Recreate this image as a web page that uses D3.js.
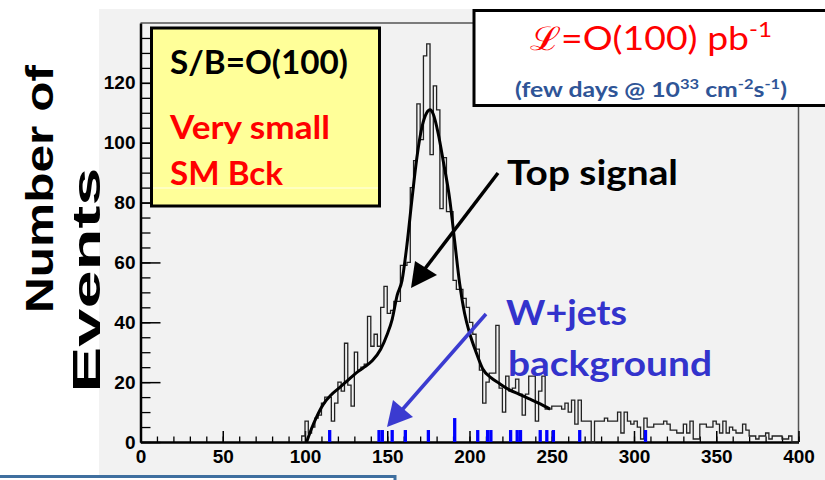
<!DOCTYPE html>
<html>
<head>
<meta charset="utf-8">
<script src="https://cdn.jsdelivr.net/npm/d3@7"></script>
<style>
  html, body { margin: 0; padding: 0; background: #fff; }
  svg { display: block; }
  .tick text { font-family: "Liberation Sans", Arial, sans-serif; font-weight: bold; font-size: 19px; fill: #000; }
</style>
</head>
<body>
<div id="chart"></div>
<script>
// top-mass histogram, 2 GeV bins starting at 98
const binLow = 98;
const binWidth = 2;
const topCounts = [
  2, 7, 3, 5, 8, 9, 13, 15, 15, 7,
  13, 20, 17, 33, 19, 12, 30, 24, 25, 26,
  42, 32, 36, 32, 45, 52, 43, 44, 47, 47,
  59, 59, 60, 85, 94, 113, 101, 129, 133, 96,
  119, 111, 78, 95, 77, 77, 54, 51, 51, 48,
  45, 40, 36, 31, 24, 13, 20, 23, 23, 39,
  18, 10, 22, 17, 18, 21, 16, 9, 16, 22,
  22, 7, 17, 22, 11, 11, 12, 12, 12, 11,
  13, 10, 14, 6, 14, 7, 7, 7, 0, 7,
  7, 7, 8, 7, 7, 7, 10, 3, 10, 7,
  6, 7, 5, 1, 8, 5, 5, 6, 6, 6,
  7, 6, 4, 4, 3, 3, 6, 3, 7, 1,
  1, 6, 6, 5, 5, 7, 6, 3, 7, 3,
  5, 4, 3, 3, 6, 4, 2, 2, 1, 2,
  2, 3, 1, 2, 2, 2, 1, 1, 2, 0,
  0
];

// W+jets background (blue filled bins)
const wjetsBins   = [114, 144, 146, 152, 160, 174, 190, 204, 210, 212, 224, 228, 230, 242, 246, 250, 266, 306];
const wjetsCounts = [4, 4, 4, 4, 4, 4, 8, 4, 4, 4, 4, 4, 4, 4, 4, 4, 4, 4];

// fitted signal curve
const fitMass   = [101, 104, 107, 111, 116, 121, 126, 131, 136, 141, 146, 150, 153, 156, 159, 162, 165, 168, 171, 174, 176, 178, 181, 184, 188, 191, 194, 197, 200, 204, 208, 213, 218, 224, 230, 236, 242, 249];
const fitEvents = [0, 4.5, 8.3, 12.5, 15.8, 18.2, 20.6, 23, 25, 27.2, 31, 36, 41, 49, 54, 66, 81, 95, 105, 110, 111, 109.5, 103, 94, 81, 67, 53, 43, 36.5, 30, 24.5, 21.5, 19.6, 17.5, 16, 14.5, 13, 11];

const xMajorTicks = [0, 50, 100, 150, 200, 250, 300, 350, 400];
const yMajorTicks = [0, 20, 40, 60, 80, 100, 120];

const W = 825, H = 480;
const svg = d3.select("#chart").append("svg").attr("width", W).attr("height", H);

// slide background
svg.append("rect").attr("x", 99).attr("y", 9).attr("width", W - 99).attr("height", H - 9).attr("fill", "#f2f2f2");

const x = d3.scaleLinear().domain([0, 400]).range([140.5, 798.5]);
const y = d3.scaleLinear().domain([0, 140]).range([442, 23]);

// frame (top + right, thin)
svg.append("path")
  .attr("d", `M${x(0)},${y(140)}H${x(400)}V${y(0)}`)
  .attr("fill", "none").attr("stroke", "#555").attr("stroke-width", 1.5);

// minor ticks
svg.append("g").attr("transform", `translate(0,${y(0)})`)
  .call(d3.axisBottom(x).tickValues(d3.range(0, 401, 10)).tickSize(-5.5).tickSizeOuter(0).tickFormat(""))
  .call(g => g.select(".domain").remove())
  .selectAll("line").attr("stroke", "#000").attr("stroke-width", 1.3);
svg.append("g").attr("transform", `translate(${x(0)},0)`)
  .call(d3.axisLeft(y).tickValues(d3.range(0, 140, 5)).tickSize(-10).tickSizeOuter(0).tickFormat(""))
  .call(g => g.select(".domain").remove())
  .selectAll("line").attr("stroke", "#000").attr("stroke-width", 1.3);

// major ticks + labels
const xAxisG = svg.append("g").attr("transform", `translate(0,${y(0)})`)
  .call(d3.axisBottom(x).tickValues(xMajorTicks).tickSize(-11).tickSizeOuter(0).tickPadding(8));
const yAxisG = svg.append("g").attr("transform", `translate(${x(0)},0)`)
  .call(d3.axisLeft(y).tickValues(yMajorTicks).tickSize(-20).tickSizeOuter(0).tickPadding(5));
[xAxisG, yAxisG].forEach(g => {
  g.select(".domain").attr("stroke", "#000").attr("stroke-width", 2.5);
  g.selectAll(".tick line").attr("stroke", "#000").attr("stroke-width", 1.5);
});

// histogram outline (step)
const histPts = [{ m: binLow, c: 0 }]
  .concat(topCounts.map((c, i) => ({ m: binLow + i * binWidth, c })))
  .concat([{ m: binLow + topCounts.length * binWidth, c: 0 }]);
svg.append("path")
  .datum(histPts)
  .attr("d", d3.line().x(d => x(d.m)).y(d => y(d.c)).curve(d3.curveStepAfter))
  .attr("fill", "none").attr("stroke", "#222").attr("stroke-width", 1.3);

// W+jets bins
svg.append("g").selectAll("rect")
  .data(wjetsBins.map((b, i) => ({ b, c: wjetsCounts[i] })))
  .join("rect")
    .attr("x", d => x(d.b))
    .attr("width", d => x(d.b + binWidth) - x(d.b))
    .attr("y", d => y(d.c))
    .attr("height", d => y(0) - y(d.c))
    .attr("fill", "#0000ff");

// fit curve
svg.append("path")
  .datum(fitMass.map((m, i) => [m, fitEvents[i]]))
  .attr("d", d3.line().x(d => x(d[0])).y(d => y(d[1])).curve(d3.curveMonotoneX))
  .attr("fill", "none").attr("stroke", "#000").attr("stroke-width", 3);

// y title (stretched, two lines)
const titleFont = "'Liberation Sans', Arial, sans-serif";
svg.append("text").attr("transform", "translate(53,189) rotate(-90)")
  .attr("text-anchor", "middle").attr("font-family", titleFont).attr("font-weight", "bold")
  .attr("font-size", 39).attr("textLength", 248).attr("lengthAdjust", "spacingAndGlyphs")
  .text("Number of");
svg.append("text").attr("transform", "translate(100,280) rotate(-90)")
  .attr("text-anchor", "middle").attr("font-family", titleFont).attr("font-weight", "bold")
  .attr("font-size", 39).attr("textLength", 225).attr("lengthAdjust", "spacingAndGlyphs")
  .text("Events");

// annotation helper
const noteFont = "Lato, 'Open Sans', sans-serif";
function note(txt, px, py, size, color, len, weight = "bold") {
  return svg.append("text").attr("x", px).attr("y", py)
    .attr("font-family", noteFont).attr("font-weight", weight)
    .attr("font-size", size).attr("fill", color)
    .attr("textLength", len).attr("lengthAdjust", "spacingAndGlyphs")
    .text(txt);
}

// yellow S/B box
svg.append("rect").attr("x", 151.5).attr("y", 28).attr("width", 228).attr("height", 178)
  .attr("fill", "#ffff99").attr("stroke", "#000").attr("stroke-width", 3);
svg.append("line").attr("x1", 153).attr("x2", 378).attr("y1", 188).attr("y2", 188)
  .attr("stroke", "#fff").attr("stroke-width", 1).attr("opacity", 0.8);
note("S/B=O(100)", 170, 73.5, 32.5, "#000", 178);
note("Very small", 170, 139.3, 31.5, "#ff0000", 160);
note("SM Bck", 170, 185, 31.5, "#ff0000", 113);

// luminosity box
svg.append("rect").attr("x", 474).attr("y", 10.5).attr("width", 400).attr("height", 95)
  .attr("fill", "#fff").attr("stroke", "#000").attr("stroke-width", 3);
const lum = svg.append("text").attr("x", 530).attr("y", 50)
  .attr("font-family", noteFont).attr("font-size", 32.5).attr("fill", "#ff0000")
  .attr("textLength", 242).attr("lengthAdjust", "spacingAndGlyphs");
lum.append("tspan").text("\u2112=O(100) pb");
lum.append("tspan").attr("font-size", 21).attr("dy", -13).text("-1");
const few = svg.append("text").attr("x", 515).attr("y", 96.7)
  .attr("font-family", noteFont).attr("font-weight", "bold").attr("font-size", 21).attr("fill", "#2f5597")
  .attr("textLength", 272).attr("lengthAdjust", "spacingAndGlyphs");
few.append("tspan").text("(few days @ 10");
few.append("tspan").attr("font-size", 14).attr("dy", -8).text("33");
few.append("tspan").attr("dy", 8).text(" cm");
few.append("tspan").attr("font-size", 14).attr("dy", -8).text("-2");
few.append("tspan").attr("dy", 8).text("s");
few.append("tspan").attr("font-size", 14).attr("dy", -8).text("-1");
few.append("tspan").attr("dy", 8).text(")");

// Top signal arrow
svg.append("line").attr("x1", 498).attr("y1", 173).attr("x2", 424).attr("y2", 270)
  .attr("stroke", "#000").attr("stroke-width", 3.5);
svg.append("polygon").attr("points", "411,288 415,261 437,275").attr("fill", "#000");
note("Top signal", 507, 185, 35, "#000", 171);

// W+jets arrow
svg.append("line").attr("x1", 486).attr("y1", 314).attr("x2", 402).attr("y2", 410)
  .attr("stroke", "#3b3bd0").attr("stroke-width", 3.5);
svg.append("polygon").attr("points", "387,427 393,400 413,417").attr("fill", "#3b3bd0");
note("W+jets", 506, 325, 35, "#3333cc", 121);
note("background", 508, 376, 35, "#3333cc", 204);

// blue box at the bottom edge
svg.append("rect").attr("x", -3).attr("y", 476.5).attr("width", 398).attr("height", 20)
  .attr("fill", "#fff").attr("stroke", "#3f6f9f").attr("stroke-width", 3);
</script>
</body>
</html>
